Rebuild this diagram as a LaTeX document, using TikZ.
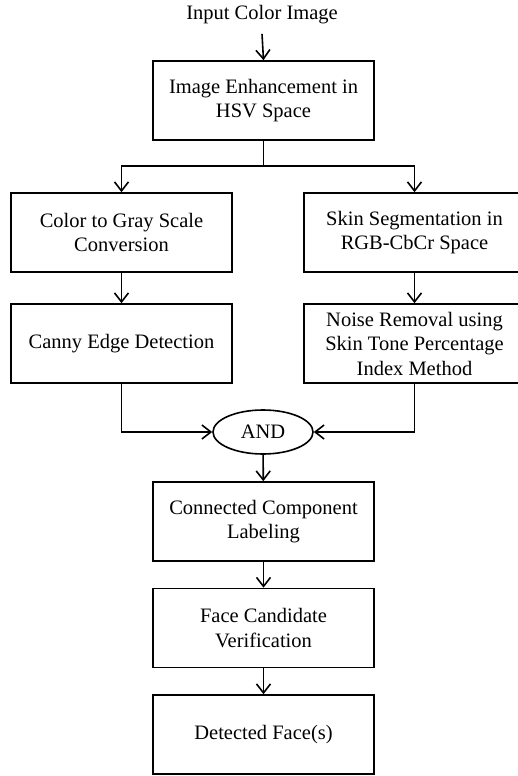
\documentclass[tikz,border=0pt]{standalone}
\usepackage{fontspec}
\setmainfont{Liberation Serif}
\usetikzlibrary{arrows.meta,shapes.geometric}
\tikzset{
  box/.style={draw, line width=1.6pt, minimum width=221pt, minimum height=79pt, align=center, inner sep=2pt},
  arr/.style={-{Straight Barb[length=9pt,width=14pt,line width=1.6pt]}},
  conn/.style={line width=1.6pt},
  andnode/.style={draw, ellipse, line width=1.6pt, minimum width=100pt, minimum height=44pt, inner sep=0pt},
}
\begin{document}
\begin{tikzpicture}[x=1pt, y=-1pt, font=\fontsize{20.5}{24.5}\selectfont]
\useasboundingbox (0,0) rectangle (517,776);
\node (input) at (262,15) {Input Color Image};
\node[box] (enh) at (263.5,100.5) {Image Enhancement in\\HSV Space};
\coordinate (j) at (263.5,166);
\node[box] (gray) at (121.5,232.5) {Color to Gray Scale\\Conversion};
\node[box] (skin) at (414.5,232.5) {Skin Segmentation in\\RGB-CbCr Space};
\node[box] (canny) at (121.5,343.5) {Canny Edge Detection};
\node[box] (noise) at (414.5,343.5) {Noise Removal using\\Skin Tone Percentage\\Index Method};
\node[andnode] (and) at (263,432) {AND};
\node[box] (ccl) at (263.5,521.5) {Connected Component\\Labeling};
\node[box] (fcv) at (263.5,628) {Face Candidate\\Verification};
\node[box] (det) at (263.5,734.5) {Detected Face(s)};
\draw[conn,arr] ([yshift=-6pt]input.south) -- (enh.north);
\draw[conn] (enh.south) -- (j);
\draw[conn,arr] (j) -| (gray.north);
\draw[conn,arr] (j) -| (skin.north);
\draw[conn,arr] (gray) -- (canny);
\draw[conn,arr] (skin) -- (noise);
\draw[conn,arr] (canny.south) |- (and.west);
\draw[conn,arr] (noise.south) |- (and.east);
\draw[conn,arr] (and) -- (ccl);
\draw[conn,arr] (ccl) -- (fcv);
\draw[conn,arr] (fcv) -- (det);
\end{tikzpicture}
\end{document}
